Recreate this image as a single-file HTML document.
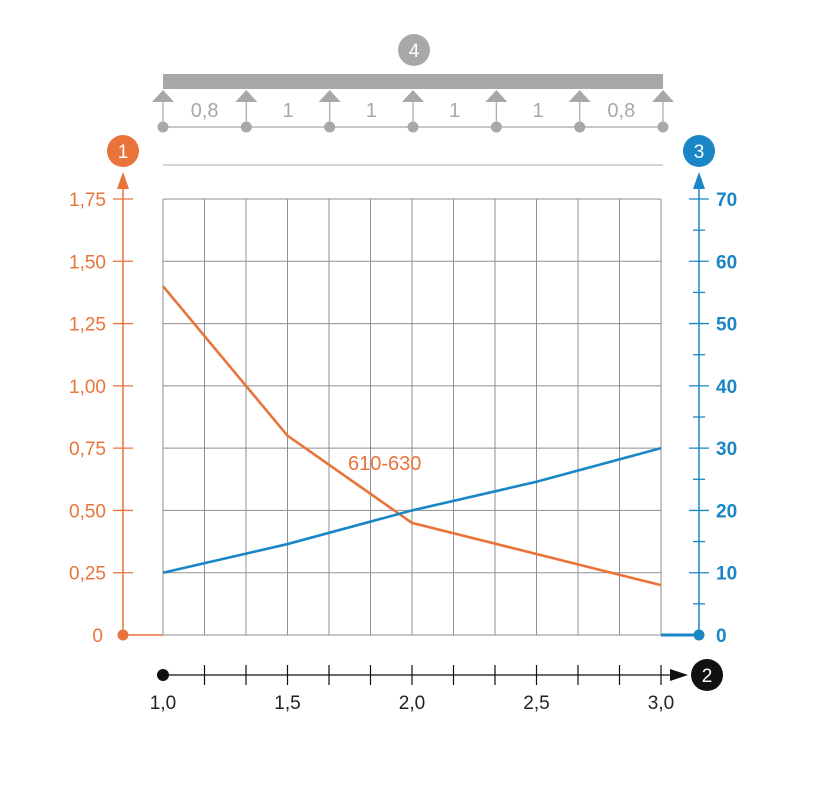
<!DOCTYPE html>
<html><head><meta charset="utf-8"><style>
body{margin:0;background:#fff;width:831px;height:794px;overflow:hidden}
svg{display:block;font-family:"Liberation Sans",Arial,sans-serif}
</style></head><body>
<svg id="c" width="831" height="794"></svg>
<script>
const xTicks=[1.0,1.5,2.0,2.5,3.0];
const xTickLabels=["1,0","1,5","2,0","2,5","3,0"];
const leftTicks=[0,0.25,0.5,0.75,1.0,1.25,1.5,1.75];
const leftTickLabels=["0","0,25","0,50","0,75","1,00","1,25","1,50","1,75"];
const rightTicks=[0,10,20,30,40,50,60,70];
const orangeX=[1.0,1.5,2.0,3.0];
const orangeY=[1.4,0.8,0.45,0.2];
const blueX=[1.0,1.5,2.0,2.5,3.0];
const blueY=[10,14.6,20,24.6,30];
const spans=["0,8","1","1","1","1","0,8"];

const NS="http://www.w3.org/2000/svg";
const svg=document.getElementById('c');
const X0=163,X1=661,Y0=635,Y1=199;
const OR="#e8743b",BL="#1a86c6",GR="#a8a8aa";
function sx(v){return X0+(v-1)/2*(X1-X0);}
function syL(v){return Y0-v/1.75*(Y0-Y1);}
function syR(v){return Y0-v/70*(Y0-Y1);}
function mk(tag,attrs,name,text){const e=document.createElementNS(NS,tag);for(const k in attrs)e.setAttribute(k,attrs[k]);


if(text!==undefined)e.textContent=text;svg.appendChild(e);return e;}

for(let i=0;i<=12;i++){const x=X0+i*(X1-X0)/12;mk('line',{x1:x,x2:x,y1:Y1,y2:Y0,stroke:'#8f8f8f','stroke-width':1},'grid-vertical');}
for(let i=0;i<=7;i++){const y=Y0-i*(Y0-Y1)/7;mk('line',{x1:X0,x2:X1,y1:y,y2:y,stroke:'#8f8f8f','stroke-width':1},'grid-horizontal');}

mk('rect',{x:163,y:74,width:500,height:15,fill:GR},'beam');
mk('line',{x1:163,x2:663,y1:127,y2:127,stroke:GR,'stroke-width':1.2},'span-line');
mk('line',{x1:163,x2:663,y1:165,y2:165,stroke:GR,'stroke-width':1},'separator-line');
const pos=[];
for(let i=0;i<=spans.length;i++)pos.push(163+i*500/spans.length);
pos.forEach(x=>{
 mk('polygon',{points:`${x},90 ${x-11},102 ${x+11},102`,fill:GR},'support-triangle');
 mk('line',{x1:x,x2:x,y1:102,y2:127,stroke:GR,'stroke-width':1.2},'support-post');
 mk('circle',{cx:x,cy:127,r:5.5,fill:GR},'support-node');
});
spans.forEach((s,i)=>mk('text',{x:(pos[i]+pos[i+1])/2,y:117,'font-size':20,fill:GR,'text-anchor':'middle'},'span-label',s));
mk('circle',{cx:414,cy:50,r:16,fill:GR},'badge-4');
mk('text',{x:414,y:57,'font-size':19,fill:'#fff','text-anchor':'middle'},'badge-4-label','4');

mk('line',{x1:123,x2:123,y1:Y0,y2:180,stroke:OR,'stroke-width':1.5},'left-axis');
mk('polygon',{points:'123,172 117,189 129,189',fill:OR},'left-axis-arrow');
mk('line',{x1:123,x2:163,y1:Y0,y2:Y0,stroke:OR,'stroke-width':1.5},'left-axis-base');
mk('circle',{cx:123,cy:Y0,r:5.5,fill:OR},'left-axis-origin');
mk('circle',{cx:123,cy:151,r:16,fill:OR},'badge-1');
mk('text',{x:123,y:158,'font-size':19,fill:'#fff','text-anchor':'middle'},'badge-1-label','1');
leftTicks.forEach((v,i)=>{const y=syL(v);
 if(v>0)mk('line',{x1:113,x2:133,y1:y,y2:y,stroke:OR,'stroke-width':1.3},'left-tick');
 mk('text',{x:i==0?103:106,y:y+7,'font-size':19,fill:OR,'text-anchor':'end'},'left-tick-label',leftTickLabels[i]);});

mk('line',{x1:699,x2:699,y1:Y0,y2:180,stroke:BL,'stroke-width':1.5},'right-axis');
mk('polygon',{points:'699,172 693,189 705,189',fill:BL},'right-axis-arrow');
mk('line',{x1:661,x2:699,y1:Y0,y2:Y0,stroke:BL,'stroke-width':3},'right-axis-base');
mk('circle',{cx:699,cy:Y0,r:5.5,fill:BL},'right-axis-origin');
mk('circle',{cx:699,cy:151,r:16,fill:BL},'badge-3');
mk('text',{x:699,y:158,'font-size':19,fill:'#fff','text-anchor':'middle'},'badge-3-label','3');
for(let v=5;v<=70;v+=5){const y=syR(v);const maj=v%10==0;
 mk('line',{x1:maj?689:693,x2:maj?709:705,y1:y,y2:y,stroke:BL,'stroke-width':1.3},'right-tick');}
rightTicks.forEach(v=>mk('text',{x:716,y:syR(v)+7,'font-size':19,fill:BL,'font-weight':'bold'},'right-tick-label',String(v)));

mk('line',{x1:163,x2:672,y1:675,y2:675,stroke:'#111','stroke-width':1.3},'x-axis');
mk('polygon',{points:'688,675 670,669 670,681',fill:'#111'},'x-axis-arrow');
mk('circle',{cx:163,cy:675,r:6,fill:'#111'},'x-axis-origin');
for(let i=1;i<=12;i++){const x=X0+i*(X1-X0)/12;mk('line',{x1:x,x2:x,y1:665,y2:685,stroke:'#111','stroke-width':1.2},'x-tick');}
mk('circle',{cx:707,cy:675,r:16,fill:'#111'},'badge-2');
mk('text',{x:707,y:682,'font-size':19,fill:'#fff','text-anchor':'middle'},'badge-2-label','2');
xTicks.forEach((v,i)=>mk('text',{x:sx(v),y:709,'font-size':19,fill:'#222','text-anchor':'middle'},'x-tick-label',xTickLabels[i]));

mk('polyline',{points:orangeX.map((v,i)=>sx(v)+','+syL(orangeY[i])).join(' '),fill:'none',stroke:OR,'stroke-width':2.6},'series-610-630-deflection');
mk('polyline',{points:blueX.map((v,i)=>sx(v)+','+syR(blueY[i])).join(' '),fill:'none',stroke:BL,'stroke-width':2.6},'series-load');
mk('text',{x:348,y:470,'font-size':20,fill:OR},'series-label','610-630');
</script>
</body></html>
